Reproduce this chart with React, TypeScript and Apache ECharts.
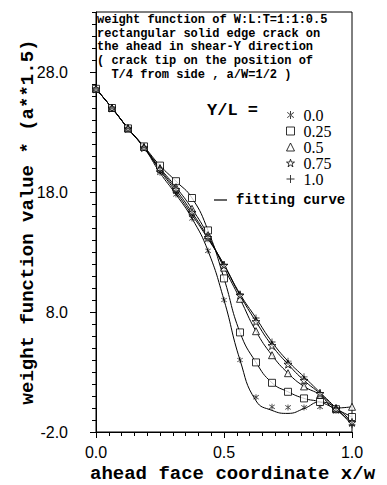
import React, { useEffect, useRef } from "react";
import * as echarts from "echarts";

const xs = [0, 0.0625, 0.125, 0.1875, 0.25, 0.3125, 0.375, 0.4375, 0.5, 0.5625, 0.625, 0.6875, 0.75, 0.8125, 0.875, 0.9375, 1.0];

// Y/L = 0.0 (asterisk)
const yAsterisk = [26.6, 25.0, 23.3, 21.7, 19.6, 17.8, 15.8, 13.1, 9.0, 4.0, 0.9, 0.1, 0.05, 0.05, 0.1, -0.2, -1.3];
const fitAsterisk = [26.6, 25.0, 23.3, 21.7, 19.6, 17.8, 15.8, 13.1, 9.0, 4.0, 0.6, -0.2, -0.45, -0.05, 0.5, 0.0, -1.2];
// Y/L = 0.25 (square)
const ySquare = [26.6, 25.0, 23.3, 21.8, 20.2, 18.9, 17.5, 14.8, 10.8, 6.3, 3.8, 2.1, 1.35, 0.8, 0.5, -0.1, -0.75];
// Y/L = 0.5 (triangle)
const yTriangle = [26.6, 25.0, 23.3, 21.75, 20.0, 18.4, 16.6, 14.4, 11.7, 9.1, 6.4, 4.4, 2.9, 1.8, 1.1, 0.0, 0.1];
// Y/L = 0.75 (star)
const yStar = [26.6, 25.0, 23.3, 21.7, 19.9, 18.2, 16.3, 14.2, 11.9, 9.4, 7.2, 5.2, 3.65, 2.3, 1.2, -0.1, -1.2];
// Y/L = 1.0 (plus)
const yPlus = [26.6, 25.0, 23.3, 21.7, 19.8, 18.0, 16.1, 14.1, 11.95, 9.5, 7.5, 5.5, 3.9, 2.6, 1.3, 0.0, -1.4];

const legendNames = ["0.0", "0.25", "0.5", "0.75", "1.0"];

const titleLines = [
  "weight function of W:L:T=1:1:0.5",
  "rectangular solid edge crack on",
  "the ahead in shear-Y direction",
  "( crack tip on the position of",
  "  T/4 from side , a/W=1/2 )",
];

const yTickMin = -2;
const yTickMax = 33;

const ASTERISK = "path://M4.4,0H5.6V10H4.4Z M0.6,2.0L1.2,1.1L9.4,7.9L8.8,8.9Z M0.6,8.0L1.2,8.9L9.4,2.1L8.8,1.1Z";
const PLUS = "path://M4.4,0H5.6V4.4H10V5.6H5.6V10H4.4V5.6H0V4.4H4.4Z";
const STAR = "path://M5,0L6.2,3.6L10,3.6L6.9,5.9L8.1,9.5L5,7.3L1.9,9.5L3.1,5.9L0,3.6L3.8,3.6Z";

const pts = (arr: number[]) => xs.map((x, i) => [x, arr[i]]);

export default function App() {
  const ref = useRef<HTMLDivElement>(null);
  useEffect(() => {
    if (!ref.current) return;
    const chart = echarts.init(ref.current, undefined, { renderer: "svg" });
    const mono = "'Liberation Mono', monospace";
    const lineS = (name: string, arr: number[]) => ({
      name,
      type: "line",
      data: pts(arr),
      smooth: 0.5,
      showSymbol: false,
      symbol: "none",
      lineStyle: { color: "#000", width: 1 },
      z: 2,
    });
    const hollow = { color: "#fff", borderColor: "#000", borderWidth: 1 };
    const solid = { color: "#000" };
    const scat = (name: string, arr: number[], symbol: string, size: number, style: any) => ({
      name,
      type: "scatter",
      data: pts(arr),
      symbol,
      symbolSize: size,
      itemStyle: style,
      z: 3,
    });
    chart.setOption({
      animation: false,
      backgroundColor: "#fff",
      grid: { left: 96, right: 35, top: 12, bottom: 53, show: true, borderColor: "#000", borderWidth: 1, backgroundColor: "transparent" },
      xAxis: {
        type: "value",
        min: 0,
        max: 1,
        interval: 0.5,
        axisLine: { onZero: false, lineStyle: { color: "#000", width: 1 } },
        axisTick: { show: true, length: 6, lineStyle: { color: "#000" } },
        minorTick: { show: true, splitNumber: 10, length: 4, lineStyle: { color: "#000" } },
        splitLine: { show: false },
        axisLabel: { color: "#000", fontSize: 16, fontFamily: "'Liberation Sans', sans-serif", margin: 12, formatter: (v: number) => v.toFixed(1) },
      },
      yAxis: [
        {
          type: "value",
          min: yTickMin,
          max: yTickMax,
          interval: 10,
          axisLine: { show: true, onZero: false, lineStyle: { color: "#000", width: 1 } },
          axisTick: { show: true, length: 6, lineStyle: { color: "#000" } },
          splitLine: { show: false },
          axisLabel: {
            color: "#000",
            fontSize: 16,
            fontFamily: "'Liberation Sans', sans-serif",
            margin: 28,
            showMaxLabel: false,
            formatter: (v: number) => v.toFixed(1),
          },
        },
        {
          type: "value",
          position: "left",
          min: yTickMin,
          max: yTickMax,
          interval: 1,
          axisLine: { show: false, onZero: false },
          axisTick: { show: true, length: 4, lineStyle: { color: "#000" } },
          splitLine: { show: false },
          axisLabel: { show: false },
        },
      ],
      legend: {
        orient: "vertical",
        left: 281,
        top: 102,
        itemWidth: 8,
        itemHeight: 8,
        itemGap: 0,
        selectedMode: false,
        textStyle: { color: "#000", fontSize: 16, fontFamily: "'Liberation Serif', serif", lineHeight: 15, padding: [0, 0, 0, 4] },
        data: [
          { name: "0.0", icon: ASTERISK, itemStyle: solid },
          { name: "0.25", icon: "rect", itemStyle: hollow },
          { name: "0.5", icon: "triangle", itemStyle: hollow },
          { name: "0.75", icon: STAR, itemStyle: hollow },
          { name: "1.0", icon: PLUS, itemStyle: solid },
        ],
      },
      series: [
        lineS("fit-0.0", fitAsterisk),
        lineS("fit-0.25", ySquare),
        lineS("fit-0.5", yTriangle),
        lineS("fit-0.75", yStar),
        lineS("fit-1.0", yPlus),
        scat(legendNames[0], yAsterisk, ASTERISK, 6, solid),
        scat(legendNames[1], ySquare, "rect", 7, hollow),
        scat(legendNames[2], yTriangle, "triangle", 7, hollow),
        scat(legendNames[3], yStar, STAR, 8, hollow),
        scat(legendNames[4], yPlus, PLUS, 7, solid),
      ],
      graphic: [
        ...titleLines.map((t, i) => ({
          type: "text",
          x: 97,
          y: 20 + i * 13.7,
          style: { text: t, font: `bold 12px ${mono}`, fill: "#000", verticalAlign: "middle" },
          z: 10,
        })),
        {
          type: "text",
          x: 207,
          y: 110,
          style: { text: "Y/L =", font: `bold 17px ${mono}`, fill: "#000", verticalAlign: "middle" },
        },
        {
          type: "line",
          shape: { x1: 214, y1: 200, x2: 227, y2: 200 },
          style: { stroke: "#000", lineWidth: 1.2 },
        },
        {
          type: "text",
          x: 236,
          y: 200,
          style: { text: "fitting curve", font: `bold 14px ${mono}`, fill: "#000", verticalAlign: "middle" },
        },
        {
          type: "text",
          x: 90,
          y: 474,
          style: { text: "ahead face coordinate x/w", font: `bold 19px ${mono}`, fill: "#000", verticalAlign: "middle" },
        },
        {
          type: "text",
          x: 28,
          y: 222,
          rotation: Math.PI / 2,
          style: { text: "weight function value * (a**1.5)", font: `bold 19px ${mono}`, fill: "#000", align: "center", verticalAlign: "middle" },
        },
      ],
    });
    return () => chart.dispose();
  }, []);
  return <div ref={ref} style={{ width: 387, height: 485, position: "absolute", left: 0, top: 0 }} />;
}
